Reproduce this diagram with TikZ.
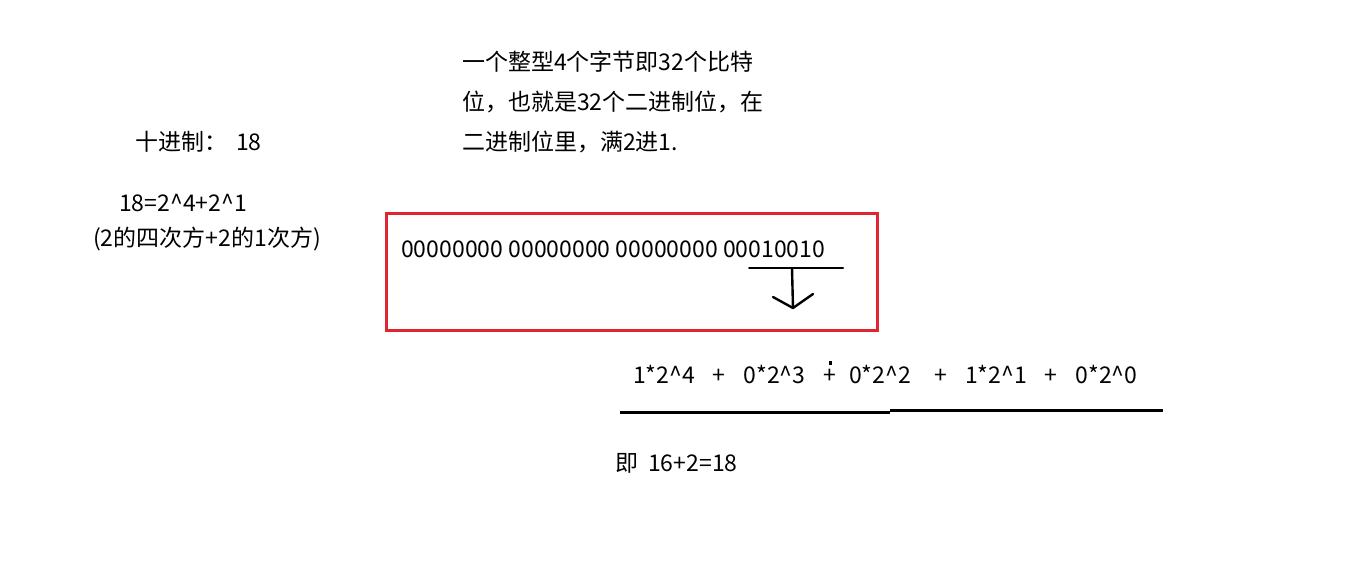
\documentclass[tikz,border=0pt]{standalone}
\usepackage{fontspec}
\setmainfont{Noto Sans CJK SC}
\definecolor{boxred}{RGB}{224,36,48}
\newcommand\crt{\textasciicircum}
\tikzset{
  txt/.style={anchor=base west,inner sep=0pt,font=\fontsize{23}{40}\selectfont},
  term/.style={txt,anchor=base},
  pen/.style={line width=2.4pt,line cap=round,line join=round},
}
\begin{document}
\begin{tikzpicture}[x=1pt,y=-1pt]
\useasboundingbox[fill=white] (0,0) rectangle (1353,576);

\node[txt] (dec) at (135,150) {十进制：\hspace{9pt}18};
\node[txt] (sum) at (119,211) {18=2\crt4+2\crt1};
\node[txt] (sumcn) at (93,246) {(2的四次方+2的1次方)};

\node[txt] (note1) at (462,70) {一个整型4个字节即32个比特};
\node[txt] (note2) at (462,110) {位，也就是32个二进制位，在};
\node[txt] (note3) at (462,150) {二进制位里，满2进1.};

\node[draw=boxred,line width=2.6pt,anchor=north west,minimum width=491pt,minimum height=117pt] (box) at (385,212) {};
\node[txt] (bin) at (401,257) {00000000 00000000 00000000 00010010};

\coordinate (barL) at (749,268);
\coordinate (barR) at (843,268);
\coordinate (arrT) at (792,268);
\coordinate (arrB) at (793,308);
\coordinate (armL) at (773,297);
\coordinate (armR) at (813,294);

\draw[pen,line width=2pt] (barL)--(barR);
\draw[pen] (arrT)--(arrB);
\draw[pen] (armL)--(arrB)--(armR);

\node[term] (t4) at (664,383) {1*2\crt4};
\node[term] (p1) at (718.5,383) {+};
\node[term] (t3) at (774.5,383) {0*2\crt3};
\node[term] (p2) at (830,383) {+};
\node[term] (t2) at (880,383) {0*2\crt2};
\node[term] (p3) at (941,383) {+};
\node[term] (t1) at (996,383) {1*2\crt1};
\node[term] (p4) at (1051,383) {+};
\node[term] (t0) at (1106.5,383) {0*2\crt0};
\fill (829,361) rectangle (832,365);

\coordinate (lineL) at (620,412);
\coordinate (lineM) at (890,412);
\coordinate (lineN) at (890,410.5);
\coordinate (lineR) at (1163,410.5);
\draw[line width=3pt] (lineL)--(lineM);
\draw[line width=3pt] (lineN)--(lineR);

\node[txt] (res) at (615,471) {即\hspace{10pt}16+2=18};
\end{tikzpicture}
\end{document}
